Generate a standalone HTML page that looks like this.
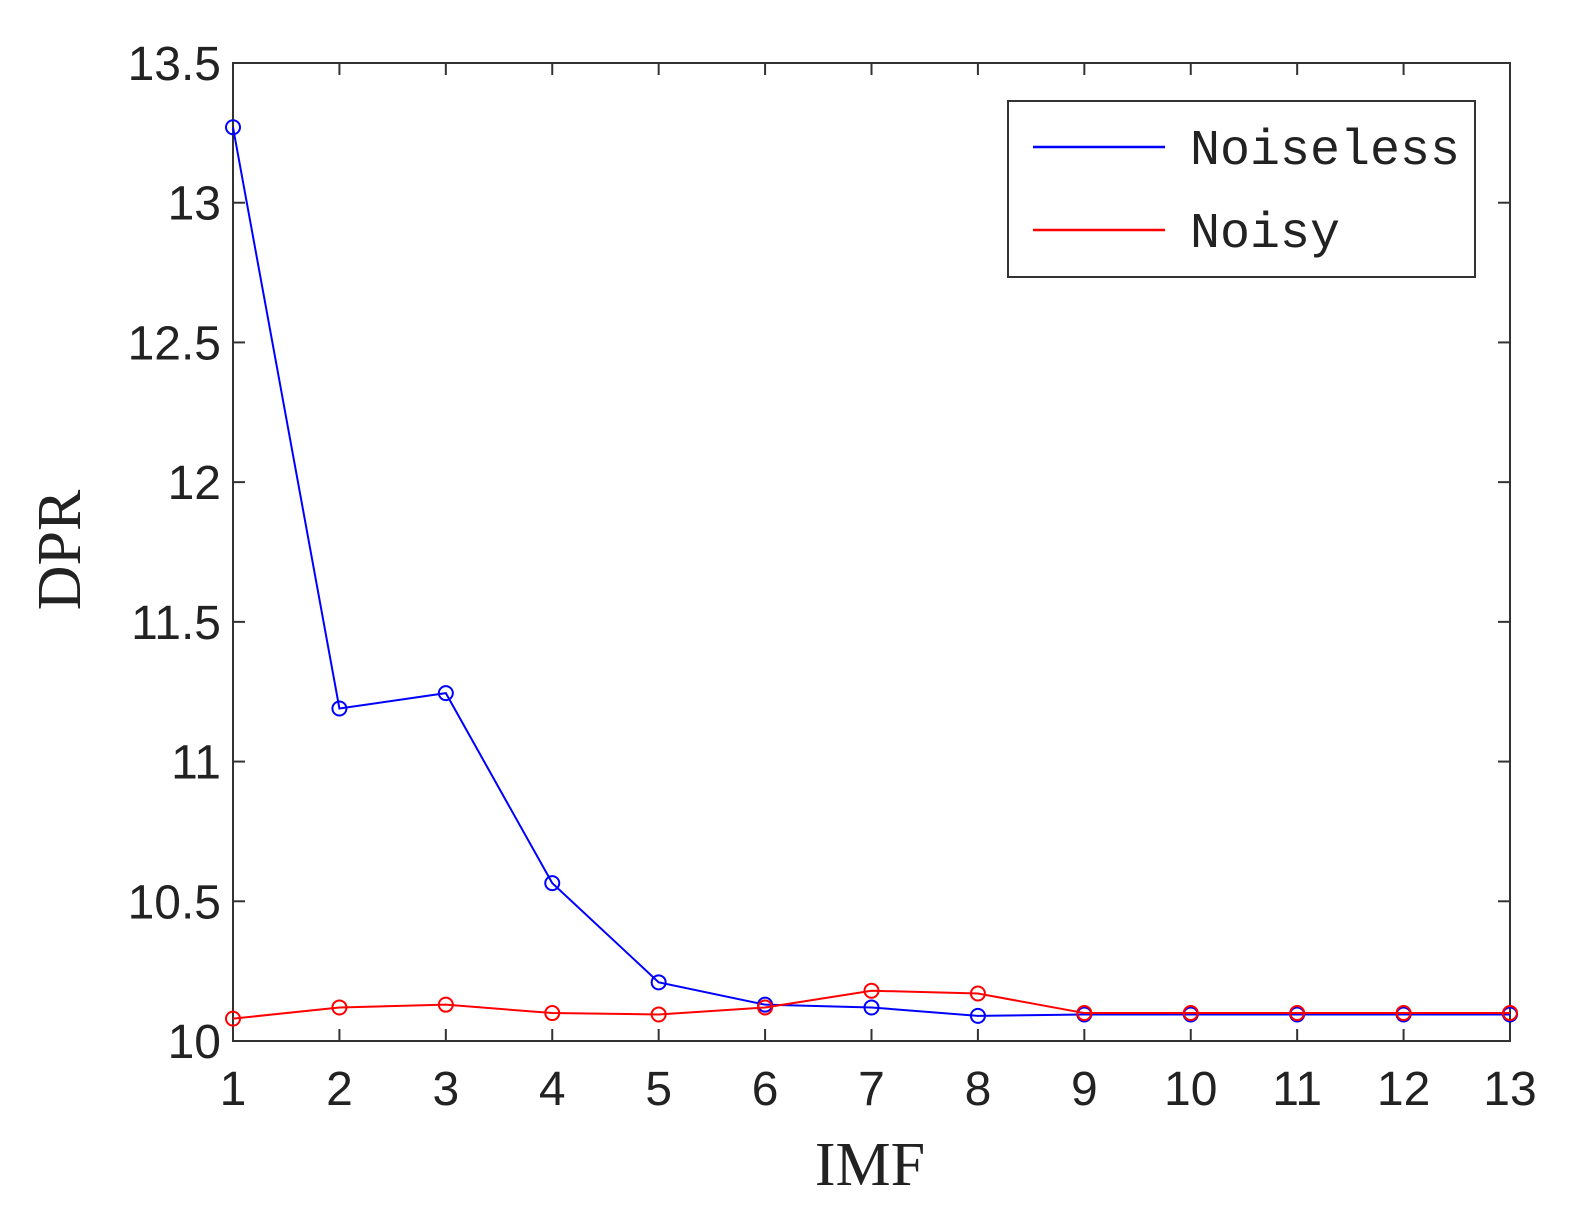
<!DOCTYPE html>
<html><head><meta charset="utf-8"><style>
html,body{margin:0;padding:0;background:#fff;}
svg{display:block;}
</style></head><body>
<svg id="chart" width="1584" height="1223" viewBox="0 0 1584 1223">
<rect x="0" y="0" width="1584" height="1223" fill="#fff"/>
<g id="ticks"></g>
<g id="series"></g>
<text x="870" y="1185" font-family="Liberation Serif, serif" font-size="62" text-anchor="middle" fill="#222">IMF</text>
<text transform="translate(80,550) rotate(-90)" font-family="Liberation Serif, serif" font-size="62" text-anchor="middle" fill="#222">DPR</text>
<g>
<rect x="1008" y="101" width="467" height="176" fill="#fff" stroke="#333" stroke-width="2"/>
<g>
<line x1="1033" y1="147" x2="1165" y2="147" stroke="#00f" stroke-width="2.5"/>
<text x="1190" y="164" font-family="Liberation Mono, monospace" font-size="50" fill="#222">Noiseless</text>
</g>
<g>
<line x1="1033" y1="230" x2="1165" y2="230" stroke="#f00" stroke-width="2.5"/>
<text x="1190" y="247" font-family="Liberation Mono, monospace" font-size="50" fill="#222">Noisy</text>
</g>
</g>
</svg>
<script>
const categories = [1,2,3,4,5,6,7,8,9,10,11,12,13];
const noiseless = [13.27,11.19,11.245,10.565,10.21,10.13,10.12,10.09,10.095,10.095,10.095,10.095,10.095];
const noisy = [10.08,10.12,10.13,10.10,10.095,10.12,10.18,10.17,10.10,10.10,10.10,10.10,10.10];
const yTicks = [10,10.5,11,11.5,12,12.5,13,13.5];
const yTickLabels = ["10","10.5","11","11.5","12","12.5","13","13.5"];

const L=233,R=1510,T=63,B=1041,xMin=1,xMax=13,yMin=10,yMax=13.5;
const xs=v=>L+(v-xMin)/(xMax-xMin)*(R-L);
const ys=v=>B-(v-yMin)/(yMax-yMin)*(B-T);
const NS="http://www.w3.org/2000/svg";
const ax=document.getElementById('ticks');
function mk(tag,attrs,parent){const e=document.createElementNS(NS,tag);for(const k in attrs)e.setAttribute(k,attrs[k]);parent.appendChild(e);return e;}
const frame=mk('rect',{x:L,y:T,width:R-L,height:B-T,fill:'none',stroke:'#333','stroke-width':2},ax);


yTicks.forEach((v,i)=>{
  const y=ys(v);
  const t1=mk('line',{x1:L,y1:y,x2:L+12,y2:y,stroke:'#333','stroke-width':2},ax);
  
  
  mk('line',{x1:R,y1:y,x2:R-12,y2:y,stroke:'#333','stroke-width':2},ax);
  const tx=mk('text',{x:L-12,y:y+17,'text-anchor':'end','font-family':'Liberation Sans, sans-serif','font-size':48,fill:'#222'},ax);
  tx.textContent=yTickLabels[i];
  
  
});
categories.forEach(c=>{
  const x=xs(c);
  const t1=mk('line',{x1:x,y1:B,x2:x,y2:B-12,stroke:'#333','stroke-width':2},ax);
  
  
  mk('line',{x1:x,y1:T,x2:x,y2:T+12,stroke:'#333','stroke-width':2},ax);
  const tx=mk('text',{x:x,y:B+64,'text-anchor':'middle','font-family':'Liberation Sans, sans-serif','font-size':48,fill:'#222'},ax);
  tx.textContent=String(c);
  
  
});
const sg=document.getElementById('series');
function drawSeries(vals,color,name){
  const g=mk('g',{},sg);
  
  
  const pts=vals.map((v,i)=>xs(categories[i])+','+ys(v)).join(' ');
  const pl=mk('polyline',{points:pts,fill:'none',stroke:color,'stroke-width':2},g);
  
  
  vals.forEach((v,i)=>{
    const c=mk('circle',{cx:xs(categories[i]),cy:ys(v),r:7,fill:'none',stroke:color,'stroke-width':2},g);
    
    
  });
}
drawSeries(noiseless,'#00f','noiseless-series');
drawSeries(noisy,'#f00','noisy-series');
</script>
</body></html>
